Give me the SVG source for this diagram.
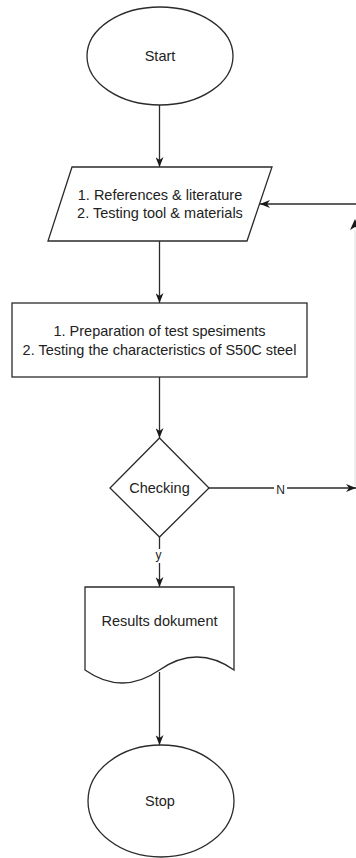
<svg xmlns="http://www.w3.org/2000/svg" width="356" height="858" viewBox="0 0 356 858">
<defs>
<marker id="ah" markerWidth="10" markerHeight="8" refX="10" refY="4" orient="auto" markerUnits="userSpaceOnUse">
<path d="M0,0 L10,4 L0,8 L3,4 Z" fill="#1a1a1a"/>
</marker>
<style>
.sh{fill:#fff;stroke:#2b2b2b;stroke-width:1.3}
.t{font-family:"Liberation Sans",Arial,sans-serif;font-size:14.5px;fill:#222;text-anchor:middle}
.e{fill:none;stroke:#2b2b2b;stroke-width:1.3}
.lb{font-family:"Liberation Sans",Arial,sans-serif;font-size:12px;fill:#222;text-anchor:middle}
</style>
</defs>
<rect width="356" height="858" fill="#fff"/>
<g id="connectors">
<line class="e" x1="159.5" y1="105" x2="159.5" y2="167" marker-end="url(#ah)"/>
<line class="e" x1="159.5" y1="241" x2="159.5" y2="303" marker-end="url(#ah)"/>
<line class="e" x1="159.5" y1="377" x2="159.5" y2="438" marker-end="url(#ah)"/>
<line class="e" x1="159.5" y1="537" x2="159.5" y2="587" marker-end="url(#ah)"/>
<line class="e" x1="159.5" y1="672" x2="159.5" y2="745" marker-end="url(#ah)"/>
<line class="e" x1="209" y1="488" x2="356" y2="488" marker-end="url(#ah)"/>
<line class="e" x1="356" y1="204" x2="260" y2="204" marker-end="url(#ah)"/>
<line x1="355" y1="230" x2="355" y2="486" stroke="#dcdcdc" stroke-width="1"/>
<path d="M355,219 L350,230 L355,227 L360,230 Z" fill="#1a1a1a"/>
<rect x="274" y="481" width="13" height="15" fill="#fff"/>
<text class="lb" x="280.5" y="494">N</text>
<rect x="153" y="549" width="12" height="14" fill="#fff"/>
<text class="lb" x="158.5" y="559">y</text>
</g>
<g id="start">
<ellipse class="sh" cx="160" cy="56" rx="73" ry="49"/>
<text class="t" x="160" y="61">Start</text>
</g>
<g id="inputs">
<polygon class="sh" points="72,167 272,167 247,241 48,241"/>
<text class="t" x="160" y="200">1. References &amp; literature</text>
<text class="t" x="160" y="218">2. Testing tool &amp; materials</text>
</g>
<g id="process">
<rect class="sh" x="12" y="303" width="295" height="74"/>
<text class="t" x="159.5" y="336">1. Preparation of test spesiments</text>
<text class="t" x="159.5" y="355">2. Testing the characteristics of S50C steel</text>
</g>
<g id="checking">
<polygon class="sh" points="159.5,438 209,488 159.5,537 110,488"/>
<text class="t" x="159.5" y="493">Checking</text>
</g>
<g id="results">
<path class="sh" d="M85,587 L234,587 L234,670 Q197,644 159.5,670 Q122,696 85,670 Z"/>
<text class="t" x="159.5" y="626">Results dokument</text>
</g>
<g id="stop">
<ellipse class="sh" cx="161" cy="801" rx="73" ry="56"/>
<text class="t" x="160" y="806">Stop</text>
</g>
</svg>
